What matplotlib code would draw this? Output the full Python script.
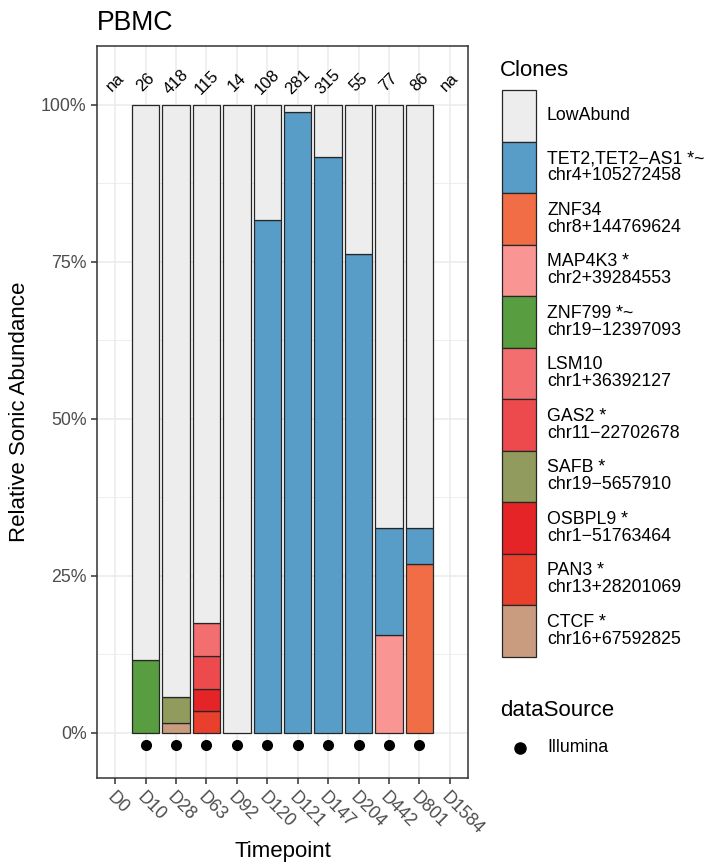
import matplotlib
matplotlib.use('Agg')
import matplotlib.pyplot as plt
from matplotlib.patches import Rectangle
from matplotlib.lines import Line2D

plt.rcParams['font.family'] = ['Liberation Sans', 'DejaVu Sans']

# timepoints and read counts shown on top of each bar
timepoints = ['D0', 'D10', 'D28', 'D63', 'D92', 'D120', 'D121',
              'D147', 'D204', 'D442', 'D801', 'D1584']
counts = ['na', '26', '418', '115', '14', '108', '281',
          '315', '55', '77', '86', 'na']
# which timepoints have Illumina data
illumina = [0, 1, 1, 1, 1, 1, 1, 1, 1, 1, 1, 0]

# clone names (legend order, top of stack first)
clones = ['LowAbund',
          'TET2,TET2\u2212AS1 *~\nchr4+105272458',
          'ZNF34\nchr8+144769624',
          'MAP4K3 *\nchr2+39284553',
          'ZNF799 *~\nchr19\u221212397093',
          'LSM10\nchr1+36392127',
          'GAS2 *\nchr11\u221222702678',
          'SAFB *\nchr19\u22125657910',
          'OSBPL9 *\nchr1\u221251763464',
          'PAN3 *\nchr13+28201069',
          'CTCF *\nchr16+67592825']
colors = ['#EDEDED', '#589CC8', '#F06D46', '#F99593', '#589E40',
          '#F26E6F', '#ED4A4D', '#929B5E', '#E42427', '#E9402D', '#C99C80']

# relative abundance (%) per clone per timepoint
low_abund = [0, 88.4, 94.4, 82.6, 100, 18.4, 1.1, 8.3, 23.7, 67.4, 67.4, 0]
tet2      = [0, 0, 0, 0, 0, 81.6, 98.9, 91.7, 76.3, 17.0, 5.8, 0]
znf34     = [0, 0, 0, 0, 0, 0, 0, 0, 0, 0, 26.8, 0]
map4k3    = [0, 0, 0, 0, 0, 0, 0, 0, 0, 15.6, 0, 0]
znf799    = [0, 11.6, 0, 0, 0, 0, 0, 0, 0, 0, 0, 0]
lsm10     = [0, 0, 0, 5.2, 0, 0, 0, 0, 0, 0, 0, 0]
gas2      = [0, 0, 0, 5.3, 0, 0, 0, 0, 0, 0, 0, 0]
safb      = [0, 0, 4.1, 0, 0, 0, 0, 0, 0, 0, 0, 0]
osbpl9    = [0, 0, 0, 3.5, 0, 0, 0, 0, 0, 0, 0, 0]
pan3      = [0, 0, 0, 3.4, 0, 0, 0, 0, 0, 0, 0, 0]
ctcf      = [0, 0, 1.5, 0, 0, 0, 0, 0, 0, 0, 0, 0]
series = [low_abund, tet2, znf34, map4k3, znf799, lsm10,
          gas2, safb, osbpl9, pan3, ctcf]

W, H = 714, 865
fig = plt.figure(figsize=(W/100, H/100), dpi=100)
ax = fig.add_axes([97/W, 1-778/H, (468-97)/W, (778-46)/H])

x = list(range(len(timepoints)))

# grid
for v in [12.5, 37.5, 62.5, 87.5]:
  ax.axhline(v, color='#EBEBEB', lw=0.6, zorder=0)
for v in [0, 25, 50, 75, 100]:
  ax.axhline(v, color='#EBEBEB', lw=1.1, zorder=0)
for v in x:
  ax.axvline(v, color='#EBEBEB', lw=1.1, zorder=0)

# stacked bars, last clone at the bottom
bottom = [0]*len(x)
for vals, col in zip(series[::-1], colors[::-1]):
  idx = [i for i in x if vals[i] > 0]
  ax.bar([x[i] for i in idx], [vals[i] for i in idx], width=0.9,
         bottom=[bottom[i] for i in idx], color=col,
         edgecolor='#262626', linewidth=0.9, zorder=2)
  bottom = [b+v for b, v in zip(bottom, vals)]

# data source dots
ax.scatter([x[i] for i in x if illumina[i]], [-2]*sum(illumina),
           s=64, color='black', zorder=3, linewidths=0)

# counts on top
for i, c in zip(x, counts):
  ax.text(i, 103.6, c, rotation=45, ha='center', va='center',
          fontsize=12, color='black')

ax.set_xlim(-0.6, 11.6)
ax.set_ylim(-7.25, 109.4)
ax.set_yticks([0, 25, 50, 75, 100])
ax.set_yticklabels(['0%', '25%', '50%', '75%', '100%'])
ax.set_xticks(x)
ax.set_xticklabels(timepoints, rotation=-45, ha='left', va='top',
                   rotation_mode='anchor')
ax.tick_params(axis='both', colors='#333333', labelcolor='#4D4D4D',
               labelsize=12.8, length=4, width=1.1)
ax.tick_params(axis='x', pad=4)
for s in ax.spines.values():
  s.set_color('#333333')
  s.set_linewidth(1.1)

ax.set_ylabel('Relative Sonic Abundance', fontsize=16, labelpad=8)
fig.text(283/W, 1-857/H, 'Timepoint', fontsize=16, ha='center',
         va='baseline')
fig.text(97/W, 1-30/H, 'PBMC', fontsize=19.2, ha='left', va='baseline')

# legend drawn by hand, ggplot style
fig.text(500/W, 1-70/H, 'Clones', fontsize=16, ha='left', va='center')
key_top = 90
key_h = 51.5
for k, (lab, col) in enumerate(zip(clones, colors)):
  y0 = key_top + k*key_h
  fig.add_artist(Rectangle((502/W, 1-(y0+key_h)/H), 34/W, key_h/H,
                           transform=fig.transFigure, facecolor=col,
                           edgecolor='#262626', linewidth=0.9))
  fig.text(547/W, 1-(y0+key_h/2)/H, lab, fontsize=12.8, ha='left',
           va='center', linespacing=1.0)

fig.text(500/W, 1-710/H, 'dataSource', fontsize=16, ha='left', va='center')
fig.add_artist(Line2D([520/W], [1-748/H], marker='o', markersize=8,
                      color='black', transform=fig.transFigure))
fig.text(547/W, 1-748/H, 'Illumina', fontsize=12.8, ha='left', va='center')

fig.savefig('out.png', dpi=100)
